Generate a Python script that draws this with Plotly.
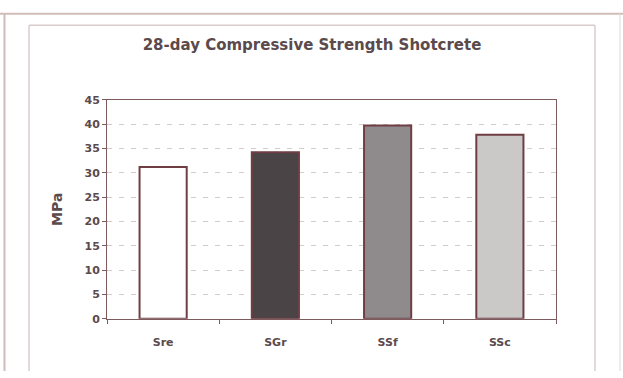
import plotly.graph_objects as go

# 28-day compressive strength of shotcrete mixes
categories = ["Sre", "SGr", "SSf", "SSc"]
strength_mpa = [31.2, 34.2, 39.7, 37.8]
bar_colors = ["#ffffff", "#4a4446", "#8f8b8c", "#cbc8c8"]
y_ticks = [0, 5, 10, 15, 20, 25, 30, 35, 40, 45]

W, H = 623, 378
FONT = "DejaVu Sans, Liberation Sans, Arial, sans-serif"
TEXT = "#5b4a4c"
FRAME = "#7d5a5e"

fig = go.Figure(
    go.Bar(
        x=categories,
        y=strength_mpa,
        marker=dict(color=bar_colors, line=dict(color="#6e3e44", width=2)),
        width=0.42,
        hoverinfo="x+y",
    )
)

def px_x(v):
    return v / W

def px_y(v):
    return 1 - v / H

fig.update_layout(
    width=W,
    height=H,
    margin=dict(l=0, r=0, t=0, b=0),
    paper_bgcolor="#ffffff",
    plot_bgcolor="#ffffff",
    showlegend=False,
    font=dict(family=FONT, color=TEXT),
    title=dict(
        text="28-day Compressive Strength Shotcrete",
        x=px_x(312),
        xanchor="center",
        y=px_y(45),
        yanchor="middle",
        font=dict(size=15, weight="bold", color=TEXT, family=FONT),
    ),
    xaxis=dict(
        domain=[px_x(107), px_x(556)],
        showline=True,
        linecolor=FRAME,
        linewidth=1,
        mirror=True,
        ticks="outside",
        tickson="boundaries",
        ticklen=4,
        tickcolor=FRAME,
        ticklabelstandoff=13,
        tickfont=dict(size=11, weight="bold", color=TEXT),
        showgrid=False,
        fixedrange=True,
    ),
    yaxis=dict(
        domain=[px_y(324), px_y(97)],
        range=[0, 45],
        tickvals=y_ticks,
        ticks="outside",
        ticklen=4,
        tickcolor=FRAME,
        tickfont=dict(size=11, weight="bold", color=TEXT),
        showline=True,
        linecolor=FRAME,
        linewidth=1,
        mirror=True,
        showgrid=True,
        gridcolor="#d3cbcc",
        griddash="5px,7px",
        gridwidth=1,
        zeroline=False,
        title=dict(text="MPa", font=dict(size=14, weight="bold", color=TEXT), standoff=18),
        fixedrange=True,
    ),
)

# Page frame lines and the chart-area border
frame_color = "#cdbcbc"
shapes = [
    dict(type="line", xref="paper", yref="paper", x0=0, x1=1, y0=px_y(8), y1=px_y(8),
         line=dict(color="#d2bcb8", width=2)),
    dict(type="line", xref="paper", yref="paper", x0=px_x(4.5), x1=px_x(4.5), y0=0, y1=px_y(8),
         line=dict(color=frame_color, width=2)),
    dict(type="line", xref="paper", yref="paper", x0=px_x(620), x1=px_x(620), y0=0, y1=px_y(8),
         line=dict(color="#e2d8d8", width=1)),
    dict(type="line", xref="paper", yref="paper", x0=px_x(29), x1=px_x(595), y0=px_y(20), y1=px_y(20),
         line=dict(color="#d8cccc", width=1.5)),
    dict(type="line", xref="paper", yref="paper", x0=px_x(29), x1=px_x(29), y0=0, y1=px_y(20),
         line=dict(color="#d8cccc", width=1.5)),
    dict(type="line", xref="paper", yref="paper", x0=px_x(595), x1=px_x(595), y0=0, y1=px_y(20),
         line=dict(color="#d8cccc", width=1.5)),
]
fig.update_layout(shapes=shapes)

fig.write_html("out.html")
